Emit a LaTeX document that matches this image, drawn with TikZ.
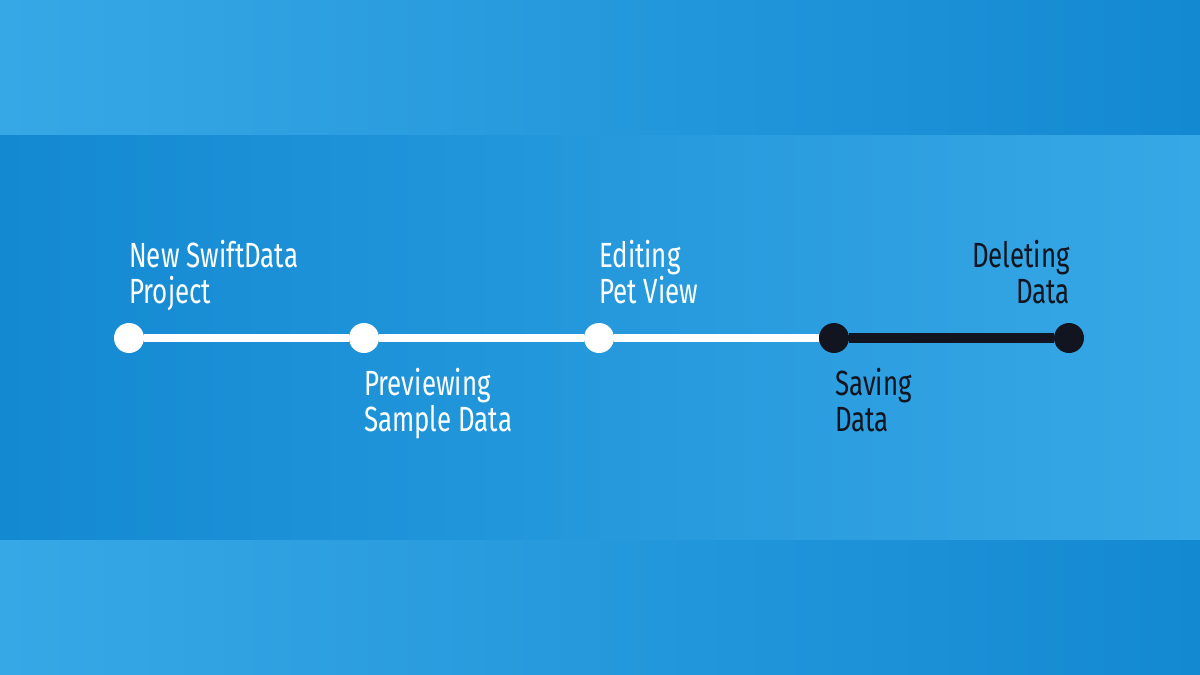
\documentclass[tikz,border=0pt]{standalone}
\usepackage{fontspec}
\setmainfont{Fira Sans}[FakeStretch=0.74]
\usepackage{xcolor}
\usetikzlibrary{positioning}
\definecolor{bandlight}{HTML}{37A8E6}
\definecolor{banddark}{HTML}{1389D2}
\definecolor{inkdark}{HTML}{12151F}

\begin{document}
\begin{tikzpicture}[x=1pt,y=-1pt,
    stop/.style={circle,minimum size=30pt,inner sep=0pt},
    done/.style={stop,fill=white},
    todo/.style={stop,fill=inkdark},
    label/.style={font=\fontsize{35}{36}\selectfont,align=left,inner sep=0pt},
    doneline/.style={line width=8pt,white},
    todoline/.style={line width=10pt,inkdark}]
      \useasboundingbox (0,0) rectangle (1200,675);
      \shade[left color=bandlight,right color=banddark] (0,0) rectangle (1200,135);
      \shade[left color=banddark,right color=bandlight] (0,135) rectangle (1200,540);
      \shade[left color=bandlight,right color=banddark] (0,540) rectangle (1200,675);
      \node[done] (s1) at (129,338) {};
      \node[done] (s2) at (364,338) {};
      \node[done] (s3) at (599,338) {};
      \node[todo] (s4) at (834,338) {};
      \node[todo] (s5) at (1069,338) {};
      \draw[doneline] (s1) -- (s2);
      \draw[doneline] (s2) -- (s3);
      \draw[doneline] (s3) -- (s4);
      \draw[todoline] (s4) -- (s5);
      \node[label,text=white,anchor=base west] (t1) at (129,303) {New SwiftData\\Project};
      \node[label,text=white,anchor=base west] (t2) at (364,431) {Previewing\\Sample Data};
      \node[label,text=white,anchor=base west] (t3) at (599,303) {Editing\\Pet View};
      \node[label,text=inkdark,anchor=base west] (t4) at (835,431) {Saving\\Data};
      \node[label,text=inkdark,anchor=base east,align=right] (t5) at (1070,303) {Deleting\\Data};
    \end{tikzpicture}
\end{document}
